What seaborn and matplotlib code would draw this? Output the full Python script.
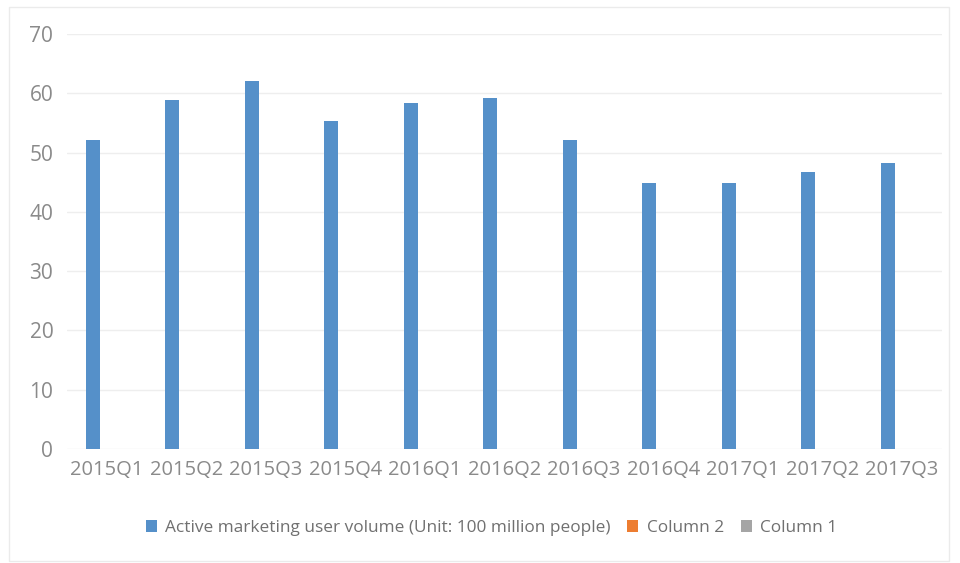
import matplotlib
matplotlib.use("Agg")
import matplotlib.pyplot as plt
from matplotlib.patches import Rectangle
import numpy as np
import seaborn as sns
import pandas as pd

quarters = ["2015Q1", "2015Q2", "2015Q3", "2015Q4", "2016Q1", "2016Q2",
            "2016Q3", "2016Q4", "2017Q1", "2017Q2", "2017Q3"]
active_users = [52.1, 58.9, 62.1, 55.4, 58.4, 59.2, 52.1, 44.9, 44.9, 46.7, 48.3]
column_2 = [np.nan] * len(quarters)
column_1 = [np.nan] * len(quarters)
series_names = ["Active marketing user volume (Unit: 100 million people)",
                "Column 2", "Column 1"]
series_colors = ["#5590C9", "#ED7D31", "#A5A5A5"]
y_ticks = [0, 10, 20, 30, 40, 50, 60, 70]

df = pd.DataFrame({
    "quarter": quarters * 3,
    "value": active_users + column_2 + column_1,
    "series": [n for n in series_names for _ in quarters],
})

sns.set_theme(style="white")
plt.rcParams["font.family"] = ["Open Sans", "DejaVu Sans"]

fig = plt.figure(figsize=(9.6, 5.63), dpi=100)
ax = fig.add_axes([0.070, 0.2025, 0.911, 0.7371])

sns.barplot(data=df, x="quarter", y="value", hue="series",
            hue_order=series_names, order=quarters,
            palette=dict(zip(series_names, series_colors)),
            width=0.53, saturation=1, linewidth=0, ax=ax, zorder=3)

ax.set_ylim(0, 70)
ax.set_yticks(y_ticks)
ax.set_xlim(-0.5, len(quarters) - 0.5)
ax.set_xlabel("")
ax.set_ylabel("")
ax.yaxis.grid(True, color="#EEEEEE", linewidth=1)
ax.xaxis.grid(False)
for s in ax.spines.values():
    s.set_visible(False)
ax.tick_params(axis="both", length=0, labelcolor="#8A8A8A")
ax.tick_params(axis="y", labelsize=15, pad=10)
ax.tick_params(axis="x", labelsize=14.5, pad=8)

sns.move_legend(ax, "center", bbox_to_anchor=(0.512, 0.062),
                bbox_transform=fig.transFigure, ncol=3, frameon=False,
                title=None, fontsize=12.4, labelcolor="#707070",
                handlelength=0.65, handleheight=0.65, handletextpad=0.5,
                columnspacing=0.95)

fig.patches.append(Rectangle((0.009, 0.003), 0.98, 0.985, transform=fig.transFigure,
                             fill=False, edgecolor="#EBEBEB", linewidth=1))

fig.savefig("out.png", dpi=100)
